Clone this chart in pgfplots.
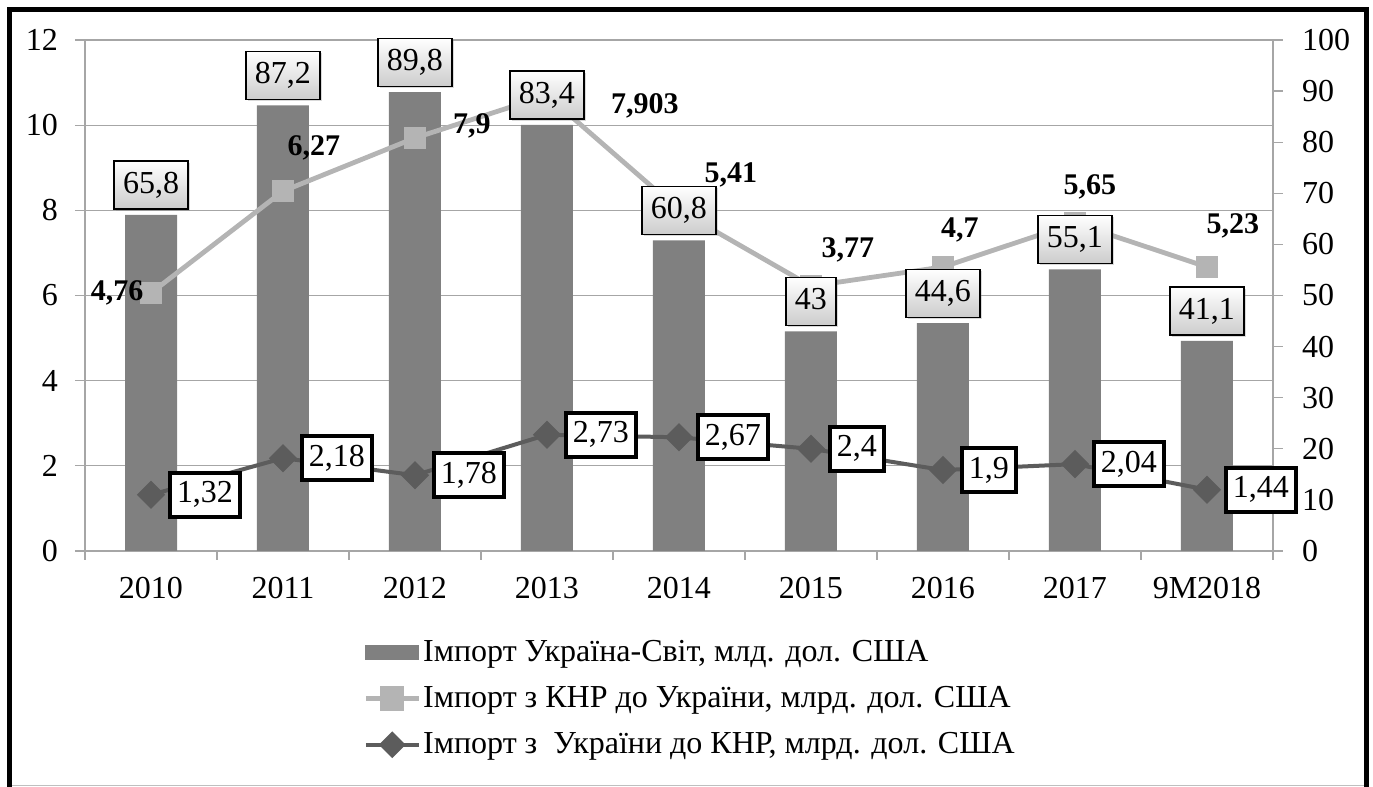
\documentclass[border=0pt]{standalone}
\usepackage{fontspec}
\setmainfont{Liberation Serif}
\newfontfamily\chartserif{Liberation Serif}
\usepackage{pgfplots}
\pgfplotsset{compat=1.18}
\usepackage{pgfplotstable}
\usetikzlibrary{shadows}

\definecolor{barcolor}{HTML}{808080}
\definecolor{lightline}{HTML}{B4B4B4}
\definecolor{darkline}{HTML}{5C5C5C}
\definecolor{gridgray}{HTML}{A6A6A6}

\newcommand\chTick{\chartserif\fontsize{16}{19}\selectfont}
\newcommand\chLbl{\chartserif\fontsize{16}{19}\selectfont}
\newcommand\chBold{\chartserif\fontsize{15}{18}\selectfont\bfseries}
\newcommand\chLeg{\chartserif\fontsize{16}{19}\selectfont}

% world import, bn USD (right axis)
\pgfplotstableread{
x y lbl
0 65.8 65,8
1 87.2 87,2
2 89.8 89,8
3 83.4 83,4
4 60.8 60,8
5 43.0 43
6 44.6 44,6
7 55.1 55,1
8 41.1 41,1
}\worldtab

% import from China: plotted height (left axis) and printed label
\pgfplotstableread{
x y lbl dx dy
0 6.06 4,76 -17 0
1 8.45 6,27 15.5 21.5
2 9.70 7,9 28.5 6
3 10.70 7,903 49 -5
4 8.00 5,41 26 17.5
5 6.22 3,77 18.5 18
6 6.67 4,7 8.5 18.5
7 7.70 5,65 7.5 18
8 6.67 5,23 13 20.5
}\chinatab

% import from Ukraine to China (left axis)
\pgfplotstableread{
x y lbl
0 1.32 1,32
1 2.18 2,18
2 1.78 1,78
3 2.73 2,73
4 2.67 2,67
5 2.40 2,4
6 1.90 1,9
7 2.04 2,04
8 1.44 1,44
}\uatab

\pgfplotsset{
  common/.style={
    scale only axis, width=594pt, height=255.5pt,
    at={(42.5pt,118pt)}, anchor=south west,
    xmin=-0.5, xmax=8.5, clip=false,
    tick label style={font=\chTick},
    /pgf/number format/assume math mode=true,
  },
}

\begin{document}
\begin{tikzpicture}[font=\chartserif]
\useasboundingbox (0,0) rectangle (686.5pt,393.5pt);

% left axis, grid, categories
\begin{axis}[common,
  ymin=0, ymax=12, ytick={0,2,...,12},
  axis x line*=bottom, axis y line*=left,
  axis line style={draw=gridgray, line width=0.6pt, -},
  ymajorgrids, grid style={draw=gridgray, line width=0.6pt},
  tick align=outside, major tick length=5pt, minor tick length=4.5pt,
  tick style={draw=gridgray, line width=0.6pt},
  xtick={0,...,8},
  xticklabels={2010,2011,2012,2013,2014,2015,2016,2017,9M2018},
  major x tick style={draw=none},
  minor xtick={-0.5,0.5,...,8.5},
  yticklabel style={xshift=-5pt},
  xticklabel style={yshift=-4.5pt},
]
\end{axis}

% bars, right axis
\begin{axis}[common,
  ymin=0, ymax=100, ytick={0,10,...,100},
  axis x line=none, axis y line*=right,
  axis line style={draw=gridgray, line width=0.6pt, -},
  tick align=outside, major tick length=5pt,
  tick style={draw=gridgray, line width=0.6pt},
  yticklabel style={xshift=6pt},
  ybar, bar width=26pt,
]
\addplot[fill=barcolor, draw=none] table[x=x, y=y] {\worldtab};
\end{axis}

% lines
\begin{axis}[common,
  ymin=0, ymax=12, axis lines=none, xtick=\empty, ytick=\empty,
  legend style={at={(0.234,-0.170)}, anchor=north west, draw=none, fill=none,
    inner sep=0pt, row sep=9pt, font=\chLeg, nodes={inner sep=1pt}},
  legend cell align=left,
]
\addlegendimage{legend image code/.code={\fill[barcolor] (0pt,-3.5pt) rectangle (26.5pt,3.5pt);}}
\addlegendentry{Імпорт Україна-Світ, млд. дол. США}

\addplot[lightline, line width=2.4pt, mark=square*, mark size=4.25pt,
  mark options={fill=lightline, draw=none},
  nodes near coords, point meta=explicit symbolic,
  visualization depends on={\thisrow{dx}\as\dx},
  visualization depends on={\thisrow{dy}\as\dy},
  every node near coord/.append style={anchor=center, xshift=\dx pt, yshift=\dy pt,
    font=\chBold, text=black},
  legend image code/.code={
    \draw[lightline, line width=2.4pt] (0pt,0pt) -- (26.5pt,0pt);
    \fill[lightline] (8.5pt,-5pt) rectangle (18pt,5pt);}
] table[x=x, y=y, meta=lbl] {\chinatab};
\addlegendentry{Імпорт з КНР до України, млрд. дол. США}

\addplot[darkline, line width=2pt, mark=square*, mark size=4pt,
  mark options={fill=darkline, draw=none, rotate=45},
  nodes near coords, point meta=explicit symbolic,
  every node near coord/.append style={anchor=west, xshift=8.5pt,
    draw=black, line width=2pt, fill=white, text=black, font=\chLbl,
    inner xsep=3.5pt, inner ysep=4pt, text height=11pt, text depth=3pt},
  legend image code/.code={
    \draw[darkline, line width=2pt] (0pt,0pt) -- (26.5pt,0pt);
    \fill[darkline, rotate around={45:(13.25pt,0pt)}] (9.5pt,-3.75pt) rectangle (17pt,3.75pt);}
] table[x=x, y=y, meta=lbl] {\uatab};
\addlegendentry{Імпорт з~ України до КНР, млрд. дол. США}
\end{axis}

% labels of the bars
\begin{axis}[common,
  ymin=0, ymax=100, axis lines=none, xtick=\empty, ytick=\empty,
]
\addplot[draw=none, mark=none,
  nodes near coords, point meta=explicit symbolic,
  every node near coord/.append style={anchor=south, yshift=2.5pt,
    draw=black, line width=0.75pt, top color=white, bottom color=black!20,
    drop shadow={shadow xshift=0.8pt, shadow yshift=-0.8pt, opacity=0.3},
    text=black, font=\chLbl,
    inner xsep=4.5pt, inner ysep=5pt, text height=11pt, text depth=3pt},
] table[x=x, y=y, meta=lbl] {\worldtab};
\end{axis}

% frame
\draw[black!25, line width=0.5pt] (4.75pt,0.5pt) -- (683pt,0.5pt);
\draw[line width=2.5pt] (4.75pt,-5pt) -- (4.75pt,388.75pt) -- (683pt,388.75pt) -- (683pt,-5pt);
\end{tikzpicture}
\end{document}
